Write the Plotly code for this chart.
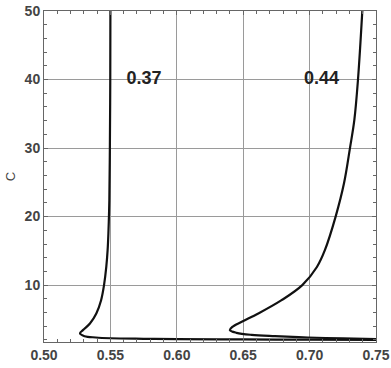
import plotly.graph_objects as go

# Curve labelled 0.37 (ordered from top, down to nose, then lower branch to the right)
x_037 = [0.5500, 0.5499, 0.5496, 0.5492, 0.5489, 0.5485, 0.5479, 0.5469, 0.5452, 0.5430,
         0.5394, 0.5346, 0.5293, 0.5271, 0.5305, 0.5390, 0.5500, 0.5750, 0.6000, 0.6500,
         0.7000, 0.7500]
y_037 = [50, 40, 30, 22.4, 20, 17.6, 15.1, 12.65, 10, 7.8,
         5.86, 4.4, 3.43, 2.95, 2.55, 2.36, 2.25, 2.17, 2.12, 2.07,
         2.04, 2.02]

# Curve labelled 0.44
x_044 = [0.7397, 0.7364, 0.7337, 0.7304, 0.7259, 0.7196, 0.7115, 0.7055, 0.6945, 0.6789,
         0.6614, 0.6489, 0.6418, 0.6400, 0.6450, 0.6563, 0.6739, 0.6988, 0.7250, 0.7500]
y_044 = [50, 39.9, 34.1, 30, 24.85, 20, 15.1, 12.65, 10, 7.8,
         5.86, 4.64, 3.9, 3.43, 3.04, 2.74, 2.55, 2.36, 2.22, 2.12]

labels = ["0.37", "0.44"]
label_x = [0.5753, 0.7090]
label_y = [40, 40]

x_ticks = [0.50, 0.55, 0.60, 0.65, 0.70, 0.75]
x_ticktext = ["0.50", "0.55", "0.60", "0.65", "0.70", "0.75"]
y_ticks = [10, 20, 30, 40, 50]

fig = go.Figure()
for xs, ys in [(x_037, y_037), (x_044, y_044)]:
    fig.add_trace(go.Scatter(x=xs, y=ys, mode="lines",
                             line=dict(color="#111111", width=2.2, shape="spline", smoothing=1.0),
                             showlegend=False, hoverinfo="skip", cliponaxis=True))

fig.add_trace(go.Scatter(x=label_x, y=label_y, mode="text", text=labels,
                         textfont=dict(family="Liberation Sans, Arial", size=18, color="#222222", weight="bold"),
                         showlegend=False, hoverinfo="skip"))

axis_common = dict(
    showline=True, linecolor="#666666", linewidth=1, mirror="allticks",
    ticks="inside", ticklen=4, tickcolor="#666666",
    showgrid=True, gridcolor="#9a9a9a", gridwidth=1, zeroline=False,
    automargin=False,
    tickfont=dict(family="Liberation Sans, Arial", size=14, color="#444444", weight="bold"),
)

fig.update_xaxes(range=[0.50, 0.75], tickvals=x_ticks, ticktext=x_ticktext,
                 minor=dict(dtick=0.01, tick0=0.5, ticks="inside", ticklen=3, tickcolor="#666666", showgrid=False),
                 **axis_common)
fig.update_yaxes(range=[1.7, 50], tickvals=y_ticks,
                 minor=dict(dtick=2, tick0=0, ticks="inside", ticklen=3, tickcolor="#666666", showgrid=False),
                 title=dict(text="C", font=dict(family="Liberation Sans, Arial", size=13, color="#444444"), standoff=6),
                 **axis_common)

fig.update_layout(width=391, height=368, margin=dict(l=44, r=15, t=11, b=26),
                  plot_bgcolor="white", paper_bgcolor="white")

fig.write_html("out.html", config={"displayModeBar": False, "staticPlot": True},
               post_script="document.body.style.margin='0';document.body.style.overflow='hidden';")
